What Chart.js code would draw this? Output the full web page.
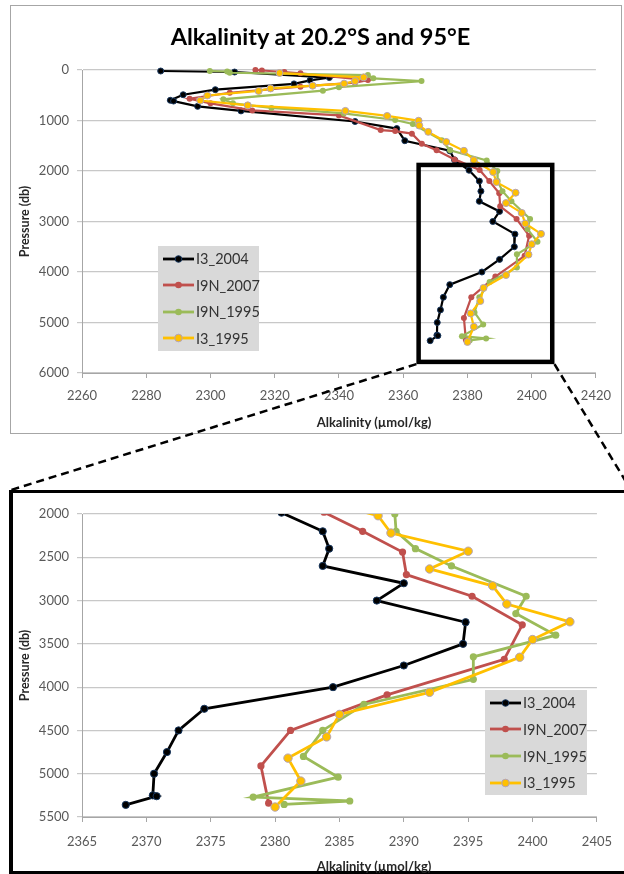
<!DOCTYPE html>
<html>
<head>
<meta charset="utf-8">
<script src="https://cdn.jsdelivr.net/npm/chart.js@4.4.1/dist/chart.umd.min.js"></script>
<style>
  html, body { margin:0; padding:0; background:#fff; }
  body { width:624px; height:874px; overflow:hidden; position:relative; font-family: Lato, "Open Sans", sans-serif; }
  #topFrame { position:absolute; left:10px; top:5px; width:610px; height:427px; border:1px solid #a6a6a6; }
  #topWrap { position:absolute; left:11px; top:6px; width:610px; height:427px; }
  #botWrap { position:absolute; left:13px; top:494px; width:611px; height:378px; }
  #botFrame { position:absolute; left:9px; top:490px; width:622px; height:385px; box-sizing:border-box; border:4px solid #000; border-top-width:3px; pointer-events:none; }
  .mainTitle { position:absolute; left:0; width:641px; top:22px; line-height:28px; text-align:center; font-weight:bold; font-size:23.5px; color:#000; }
  .xTitle { position:absolute; left:254px; width:240px; line-height:16px; text-align:center; font-weight:bold; font-size:13px; color:#262626; }
  .legend { position:absolute; background:#d9d9d9; }
  .legRow { position:absolute; left:0; height:20px; display:flex; align-items:center; font-size:14.5px; color:#333; white-space:nowrap; }
  .legRow svg { display:block; margin-right:2px; }
  #overlay { position:absolute; left:0; top:0; pointer-events:none; }
</style>
</head>
<body>
<div id="topFrame"></div>
<div id="topWrap"><canvas id="topChart" width="610" height="427"></canvas></div>
<div class="mainTitle">Alkalinity at 20.2°S and 95°E</div>
<div class="xTitle" style="top:414px;">Alkalinity (µmol/kg)</div>

<div id="botWrap"><canvas id="botChart" width="611" height="378"></canvas></div>
<div id="botFrame"></div>
<div class="xTitle" style="top:858px;">Alkalinity (µmol/kg)</div>

<div id="legTop" class="legend" style="left:158px; top:246px; width:101px; height:105px;"></div>
<div id="legBot" class="legend" style="left:485px; top:690px; width:102px; height:105px;"></div>

<svg id="overlay" width="624" height="874">
  <line id="dashL" x1="0" y1="0" x2="0" y2="0" stroke="#000" stroke-width="2.5" stroke-dasharray="8 5"/>
  <line id="dashR" x1="0" y1="0" x2="0" y2="0" stroke="#000" stroke-width="2.5" stroke-dasharray="8 5"/>
</svg>

<script>
// ---------------- DATA ----------------
const seriesNames = ["I3_2004", "I9N_2007", "I9N_1995", "I3_1995"];

const i3_2004_pressure = [20, 40, 150, 205, 275, 390, 490, 600, 615, 720, 810, 1020, 1160, 1400, 1600, 1780, 1985, 2200, 2400, 2600, 2800, 3000, 3250, 3500, 3750, 4000, 4250, 4500, 4750, 5000, 5250, 5260, 5360];
const i3_2004_alk = [2284.5, 2307.5, 2337, 2331, 2326, 2301.5, 2291.5, 2287.5, 2288.5, 2296, 2309.5, 2345, 2358, 2360.5, 2374.5, 2376, 2380.5, 2383.7, 2384.2, 2383.7, 2390.0, 2387.9, 2394.8, 2394.6, 2390.0, 2384.5, 2374.5, 2372.5, 2371.6, 2370.6, 2370.5, 2370.8, 2368.4];

const i9n_2007_pressure = [0, 10, 40, 65, 200, 250, 330, 450, 570, 660, 800, 900, 1190, 1210, 1260, 1460, 1590, 1770, 1980, 2200, 2440, 2700, 2950, 3280, 3680, 4090, 4500, 4910, 5340];
const i9n_2007_alk = [2314, 2316, 2323, 2328, 2349, 2345, 2328, 2306, 2293.5, 2300, 2313, 2340, 2353, 2357.5, 2362.7, 2365.8, 2370.4, 2376, 2383.8, 2386.8, 2389.9, 2390.2, 2395.3, 2399.2, 2397.8, 2388.7, 2381.2, 2378.9, 2379.5];

const i9n_1995_pressure = [20, 30, 55, 100, 165, 220, 340, 410, 580, 660, 750, 860, 990, 1070, 1390, 1590, 1790, 2000, 2200, 2400, 2600, 2950, 3150, 3400, 3650, 3910, 4200, 4500, 4800, 5040, 5270, 5315, 5355];
const i9n_1995_alk = [2299.8, 2305.2, 2306, 2349, 2350.7, 2365.7, 2340, 2335, 2304, 2307, 2319, 2341.5, 2357.5, 2363, 2372, 2374.6, 2386, 2389.3, 2389.4, 2390.9, 2393.7, 2399.5, 2398.7, 2401.8, 2395.4, 2395.4, 2386.9, 2383.7, 2382.2, 2384.9, 2378.3, 2385.8, 2380.7];

const i3_1995_pressure = [60, 145, 220, 270, 310, 365, 415, 505, 605, 700, 810, 910, 1005, 1100, 1225, 1425, 1600, 1785, 2020, 2220, 2430, 2635, 2830, 3040, 3245, 3450, 3655, 4060, 4315, 4575, 4820, 5085, 5385];
const i3_1995_alk = [2321.5, 2347.7, 2345, 2341.6, 2331.8, 2318.7, 2315, 2299, 2296.8, 2311.6, 2342, 2355, 2364.8, 2365, 2367.8, 2373.4, 2378.9, 2382, 2388, 2389, 2395, 2392, 2396.9, 2398, 2402.9, 2400, 2399, 2392, 2385, 2384, 2381, 2382, 2380];

// axis tick values
const topXTicks = [2260, 2280, 2300, 2320, 2340, 2360, 2380, 2400, 2420];
const topYTicks = [0, 1000, 2000, 3000, 4000, 5000, 6000];
const botXTicks = [2365, 2370, 2375, 2380, 2385, 2390, 2395, 2400, 2405];
const botYTicks = [2000, 2500, 3000, 3500, 4000, 4500, 5000, 5500];

// zoom box shown on the top chart (data units)
const zoomBox = { x0: 2364.8, x1: 2406.4, y0: 1880, y1: 5780 };

// ---------------- STYLES ----------------
const seriesStyle = [
  { color: "#000000", edge: "#17365d", order: 4 },
  { color: "#C0504D", edge: "#C0504D", order: 3 },
  { color: "#9BBB59", edge: "#9BBB59", order: 2 },
  { color: "#FFC000", edge: "#b3a3b8", order: 1 }
];
const seriesData = [
  [i3_2004_alk, i3_2004_pressure],
  [i9n_2007_alk, i9n_2007_pressure],
  [i9n_1995_alk, i9n_1995_pressure],
  [i3_1995_alk, i3_1995_pressure]
];

function makeDatasets(lineW, r, rYellow, clip) {
  return seriesNames.map((name, k) => {
    const [alk, p] = seriesData[k];
    const st = seriesStyle[k];
    const isY = k === 3;
    return {
      label: name,
      data: alk.map((a, i) => ({ x: a, y: p[i] })),
      showLine: true,
      borderColor: st.color,
      backgroundColor: st.color,
      borderWidth: lineW,
      pointBackgroundColor: st.color,
      pointBorderColor: st.edge,
      pointBorderWidth: (k === 0 || isY) ? 1 : 0,
      pointRadius: isY ? rYellow : r,
      pointHoverRadius: isY ? rYellow : r,
      tension: 0,
      order: st.order,
      clip: clip
    };
  });
}

function ticksFrom(arr) {
  return function (scale) { scale.ticks = arr.map(v => ({ value: v })); };
}

const tickFont = { family: "Lato, 'Open Sans', sans-serif", size: 13 };
const tickColor = "#595959";

function axes(xArr, yArr, yAxisW, xAxisH, xPad, yPad, yTitlePad) {
  return {
    x: {
      type: "linear",
      min: xArr[0], max: xArr[xArr.length - 1],
      afterBuildTicks: ticksFrom(xArr),
      afterFit: s => { s.height = xAxisH; },
      grid: { drawOnChartArea: false, drawTicks: true, tickLength: 5, color: "#a6a6a6", lineWidth: 1 },
      border: { display: true, color: "#a6a6a6", width: 1 },
      ticks: { font: tickFont, color: tickColor, padding: xPad, maxRotation: 0, autoSkip: false,
               callback: v => String(v) },
      title: { display: false }
    },
    y: {
      type: "linear",
      reverse: true,
      min: yArr[0], max: yArr[yArr.length - 1],
      afterBuildTicks: ticksFrom(yArr),
      afterFit: s => { s.width = yAxisW; },
      grid: { drawOnChartArea: true, drawTicks: true, tickLength: 5, color: "#c8c8c8", lineWidth: 1.2 },
      border: { display: true, color: "#a6a6a6", width: 1 },
      ticks: { font: tickFont, color: tickColor, padding: yPad, autoSkip: false,
               callback: v => String(v) },
      title: { display: true, text: "Pressure (db)", color: "#262626",
               font: { family: "Lato, 'Open Sans', sans-serif", size: 12.5, weight: "bold" },
               padding: { top: yTitlePad, bottom: 0 } }
    }
  };
}

const boxPlugin = {
  id: "zoomBox",
  afterDatasetsDraw(chart) {
    const xs = chart.scales.x, ys = chart.scales.y, ctx = chart.ctx;
    const l = xs.getPixelForValue(zoomBox.x0), r = xs.getPixelForValue(zoomBox.x1);
    const t = ys.getPixelForValue(zoomBox.y0), b = ys.getPixelForValue(zoomBox.y1);
    const lw = 4.5;
    ctx.save();
    ctx.lineWidth = lw;
    ctx.strokeStyle = "#000";
    ctx.strokeRect(l, t, r - l, b - t);
    ctx.restore();
    // connector lines from zoom box to the lower frame
    const wrap = document.getElementById("topWrap").getBoundingClientRect();
    const frame = document.getElementById("botFrame").getBoundingClientRect();
    const dl = document.getElementById("dashL"), dr = document.getElementById("dashR");
    dl.setAttribute("x1", wrap.left + l - lw / 2); dl.setAttribute("y1", wrap.top + b + lw / 2);
    dl.setAttribute("x2", frame.left + 2); dl.setAttribute("y2", frame.top);
    dr.setAttribute("x1", wrap.left + r + lw / 2); dr.setAttribute("y1", wrap.top + b + lw / 2);
    dr.setAttribute("x2", frame.right); dr.setAttribute("y2", frame.top);
  }
};

const baseOptions = {
  responsive: false,
  animation: false,
  events: [],
  plugins: { legend: { display: false }, tooltip: { enabled: false }, title: { display: false } }
};

new Chart(document.getElementById("topChart"), {
  type: "scatter",
  data: { datasets: makeDatasets(2.2, 3, 3.5, 4) },
  options: Object.assign({}, baseOptions, {
    layout: { padding: { left: 0, right: 20, top: 64, bottom: 0 } },
    scales: axes(topXTicks, topYTicks, 71, 60, 10, 8, 6)
  }),
  plugins: [boxPlugin]
});

new Chart(document.getElementById("botChart"), {
  type: "scatter",
  data: { datasets: makeDatasets(2.8, 3.6, 4.2, { left: 6, right: 6, top: 0, bottom: 6 }) },
  options: Object.assign({}, baseOptions, {
    layout: { padding: { left: 0, right: 23, top: 20, bottom: 0 } },
    scales: axes(botXTicks, botYTicks, 69, 55, 12, 8, 4)
  })
});

// ---------------- LEGENDS ----------------
function buildLegend(id, firstY, step, lineLen, markX) {
  const box = document.getElementById(id);
  seriesNames.forEach((name, k) => {
    const st = seriesStyle[k];
    const row = document.createElement("div");
    row.className = "legRow";
    row.style.top = (firstY + k * step - 10) + "px";
    row.style.left = "5px";
    const r = k === 3 ? 3.8 : 3.3;
    const sw = (k === 0 || k === 3) ? 1 : 0;
    row.innerHTML =
      '<svg width="' + lineLen + '" height="12"><line x1="0" y1="6" x2="' + lineLen + '" y2="6" stroke="' + st.color +
      '" stroke-width="2.8"/><circle cx="' + markX + '" cy="6" r="' + r + '" fill="' + st.color +
      '" stroke="' + st.edge + '" stroke-width="' + sw + '"/></svg><span>' + name + '</span>';
    box.appendChild(row);
  });
}
buildLegend("legTop", 12.5, 26.6, 31, 15.5);
buildLegend("legBot", 12.7, 26.7, 31, 15.5);
</script>
</body>
</html>
